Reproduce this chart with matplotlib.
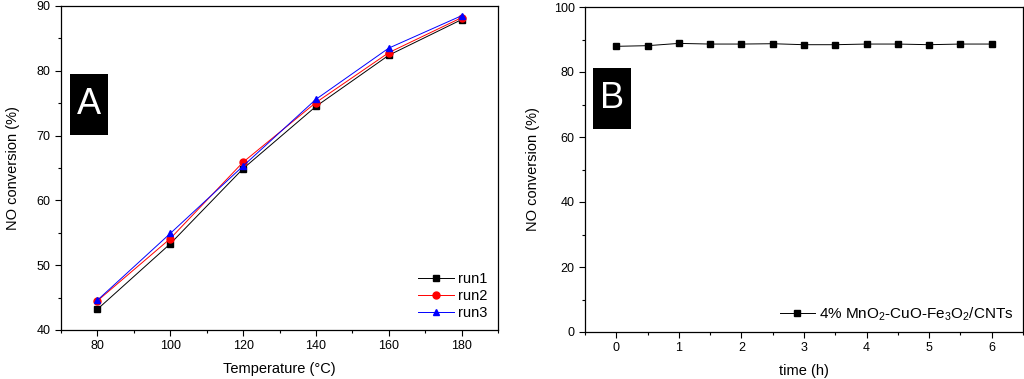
import matplotlib
matplotlib.use("Agg")
import matplotlib.pyplot as plt
from matplotlib.patches import Rectangle
from matplotlib.ticker import MultipleLocator

plt.rcParams['font.family'] = ['Liberation Sans', 'DejaVu Sans']
plt.rcParams['mathtext.fontset'] = 'custom'
plt.rcParams['mathtext.rm'] = 'Liberation Sans'
plt.rcParams['mathtext.it'] = 'Liberation Sans'

# Panel A data
temperature = [80, 100, 120, 140, 160, 180]
run1 = [43.2, 53.3, 64.9, 74.5, 82.4, 87.9]
run2 = [44.5, 54.1, 65.9, 75.1, 82.8, 88.2]
run3 = [44.6, 54.9, 65.3, 75.6, 83.5, 88.5]

# Panel B data
time_h = [0, 0.5, 1, 1.5, 2, 2.5, 3, 3.5, 4, 4.5, 5, 5.5, 6]
conv_b = [87.9, 88.1, 88.8, 88.6, 88.6, 88.7, 88.4, 88.4, 88.6, 88.6, 88.4, 88.6, 88.6]

fig = plt.figure(figsize=(10.24, 3.79), dpi=100)
W, H = 1024, 379
axA = fig.add_axes([61 / W, 1 - 330 / H, 437 / W, 324 / H])
axB = fig.add_axes([585 / W, 1 - 332 / H, 438 / W, 325 / H])

def style(ax):
    ax.tick_params(which='both', direction='out', top=False, right=False, labelsize=9)
    ax.tick_params(which='major', length=4, width=0.8)
    ax.tick_params(which='minor', length=2.5, width=0.8)
    for s in ax.spines.values():
        s.set_linewidth(0.9)

# Panel A
axA.plot(temperature, run1, color='black', lw=0.7, marker='s', ms=4.5, label='run1')
axA.plot(temperature, run2, color='red', lw=0.7, marker='o', ms=5, label='run2')
axA.plot(temperature, run3, color='blue', lw=0.7, marker='^', ms=5, label='run3')
axA.set_xlim(70, 190)
axA.set_ylim(40, 90)
axA.xaxis.set_major_locator(MultipleLocator(20))
axA.xaxis.set_minor_locator(MultipleLocator(10))
axA.yaxis.set_major_locator(MultipleLocator(10))
axA.yaxis.set_minor_locator(MultipleLocator(5))
style(axA)
axA.set_xlabel('Temperature (°C)', fontsize=10.5, labelpad=7)
axA.set_ylabel('NO conversion (%)', fontsize=10.5, labelpad=12)
axA.legend(loc='lower right', frameon=False, fontsize=10.5, handlelength=2.5,
           handletextpad=0.3, labelspacing=0.2, borderaxespad=0.3)
axA.add_patch(Rectangle((0.021, 0.602), 0.087, 0.188, transform=axA.transAxes,
                        facecolor='black', edgecolor='none', zorder=5))
axA.text(0.0645, 0.696, 'A', transform=axA.transAxes, color='white', fontsize=26,
         ha='center', va='center', zorder=6)

# Panel B
axB.plot(time_h, conv_b, color='black', lw=0.7, marker='s', ms=4.5,
         label='4% MnO$_2$-CuO-Fe$_3$O$_2$/CNTs')
axB.set_xlim(-0.5, 6.5)
axB.set_ylim(0, 100)
axB.xaxis.set_major_locator(MultipleLocator(1))
axB.xaxis.set_minor_locator(MultipleLocator(0.5))
axB.yaxis.set_major_locator(MultipleLocator(20))
axB.yaxis.set_minor_locator(MultipleLocator(10))
style(axB)
axB.set_xlabel('time (h)', fontsize=10.5, labelpad=7)
axB.set_ylabel('NO conversion (%)', fontsize=10.5, labelpad=10)
axB.legend(loc='lower right', frameon=False, fontsize=11, handlelength=2.3,
           handletextpad=0.3, borderaxespad=0.2)
axB.add_patch(Rectangle((0.018, 0.625), 0.087, 0.187, transform=axB.transAxes,
                        facecolor='black', edgecolor='none', zorder=5))
axB.text(0.0615, 0.718, 'B', transform=axB.transAxes, color='white', fontsize=26,
         ha='center', va='center', zorder=6)

fig.savefig('out.png', dpi=100)
